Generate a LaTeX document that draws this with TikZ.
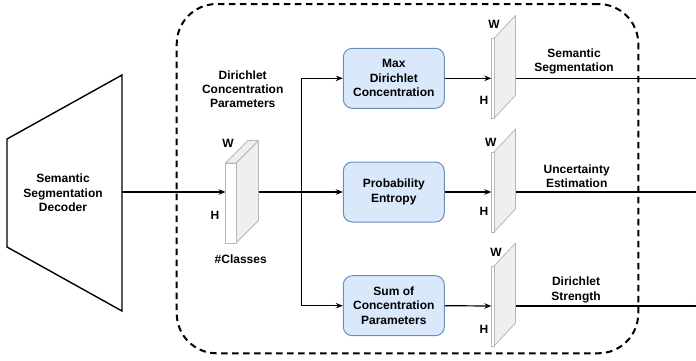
\documentclass[tikz,border=0pt]{standalone}
\usepackage{fontspec}
\setmainfont{Liberation Sans}
\usetikzlibrary{arrows.meta}
\definecolor{procfill}{HTML}{DAE8FC}
\definecolor{procstroke}{HTML}{6C8EBF}
\definecolor{cubestroke}{HTML}{B8B8B8}
\definecolor{cubefill}{HTML}{EFEFEF}
\begin{document}
\begin{tikzpicture}[x=1pt,y=-1pt,
  lbl/.style={font=\bfseries\fontsize{12}{14.4}\selectfont, align=center, inner sep=0pt},
  proc/.style={draw=procstroke, fill=procfill, rounded corners=9pt, line width=1pt,
    minimum width=101pt, minimum height=60pt, align=center, inner sep=0pt,
    font=\bfseries\fontsize{12}{14.4}\selectfont},
  conn/.style={line width=1.2pt, -{Stealth[length=7pt,width=5.5pt]}},
  facefront/.style={draw=cubestroke, fill=white, line width=0.8pt, inner sep=0pt},
  faceside/.style={draw=cubestroke, fill=cubefill, line width=0.8pt, line join=round},
  frame/.style={draw, dash pattern=on 6.5pt off 4.5pt, line width=2pt, rounded corners=40pt,
    inner sep=0pt, minimum width=461.6pt, minimum height=349.3pt}
]
\useasboundingbox (0,0) rectangle (696,360);

% dashed frame
\node[frame] (frm) at (407.5,178.65) {};

% decoder trapezoid
\draw[line width=1.4pt, line join=miter] (7,139) -- (122,75) -- (122,311) -- (7,247) -- cycle;
\node[lbl] (dec) at (63,193) {Semantic\\Segmentation\\Decoder};
\coordinate (decout) at (122,192);

% cube (Dirichlet concentration parameters)
\draw[faceside] (236,163) -- (258.5,140.5) -- (258.5,220.5) -- (236,243) -- cycle;
\draw[faceside] (225.5,163) -- (248,140.5) -- (258.5,140.5) -- (236,163) -- cycle;
\node[facefront, minimum width=10.5pt, minimum height=80pt] (cube) at (230.75,203) {};
\coordinate (cubein) at (225.5,192);
\coordinate (cubeout) at (258.5,192);
\coordinate (split) at (301.7,192);
\node[lbl] (dcp) at (242.7,89.3) {Dirichlet\\Concentration\\Parameters};
\node[lbl] (cls) at (240.7,259) {\#Classes};
\node[lbl] (cw) at (228,143) {W};
\node[lbl] (ch) at (215,215) {H};

% processing boxes
\node[proc] (b1) at (393.8,78.3) {Max\\Dirichlet\\Concentration};
\node[proc] (b2) at (393.8,192) {Probability\\Entropy};
\node[proc] (b3) at (393.8,305.7) {Sum of\\Concentration\\Parameters};

% planes
\foreach \n/\cy in {p1/78.3, p2/192, p3/306} {
  \draw[faceside] (494,\cy-40) -- (515.5,\cy-63) -- (515.5,\cy+17) -- (494,\cy+40) -- cycle;
  \node[facefront, minimum width=2.3pt, minimum height=80pt] (\n) at (492.85,\cy) {};
  \coordinate (\n out) at (515.5,\cy);
  \coordinate (\n end) at (703,\cy);
}
\node[lbl] (w1) at (494,24) {W};
\node[lbl] (h1) at (484,100) {H};
\node[lbl] (w2) at (490.7,142.3) {W};
\node[lbl] (h2) at (484,211.7) {H};
\node[lbl] (w3) at (496,252.3) {W};
\node[lbl] (h3) at (484,329.3) {H};

% connectors
\draw[conn] (decout) -- (cubein);
\draw[conn] (cubeout) -- (split) |- (b1.west);
\draw[conn] (cubeout) -- (b2.west);
\draw[conn] (cubeout) -- (split) |- (b3.west);
\draw[conn] (b1.east) -- (p1.west);
\draw[conn] (b2.east) -- (p2.west);
\draw[conn] (b3.east) -- (p3.west);
\draw[conn] (p1out) -- (p1end);
\draw[conn] (p2out) -- (p2end);
\draw[conn] (p3out) -- (p3end);

% output labels
\node[lbl] (o1) at (574,61.2) {Semantic\\Segmentation};
\node[lbl] (o2) at (576.7,176.3) {Uncertainty\\Estimation};
\node[lbl] (o3) at (576,290) {Dirichlet\\Strength};
\end{tikzpicture}
\end{document}
